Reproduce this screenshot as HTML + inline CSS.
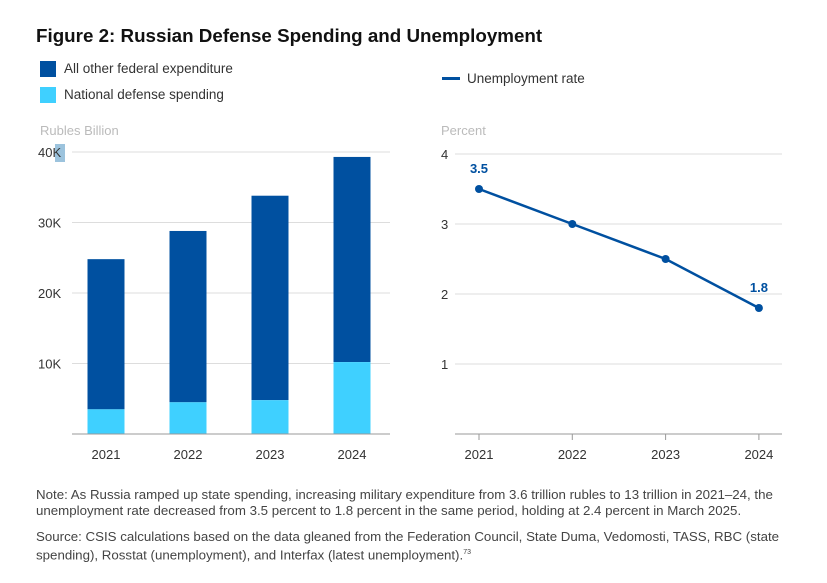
<!DOCTYPE html>
<html><head><meta charset="utf-8">
<style>
body{margin:0;width:827px;height:583px;background:#fff;font-family:"Liberation Sans",sans-serif;overflow:hidden;position:relative}
.t{position:absolute;white-space:nowrap}
</style></head>
<body>
<div class="t" style="left:36px;top:25px;font-size:18.8px;font-weight:bold;color:#111">Figure 2: Russian Defense Spending and Unemployment</div>
<div style="position:absolute;left:40px;top:61px;width:16px;height:16px;background:#0050a0"></div>
<div class="t" style="left:64px;top:61px;font-size:13.5px;color:#333">All other federal expenditure</div>
<div style="position:absolute;left:40px;top:87px;width:16px;height:16px;background:#3fd0ff"></div>
<div class="t" style="left:64px;top:87px;font-size:13.5px;color:#333">National defense spending</div>
<div style="position:absolute;left:442px;top:77px;width:18px;height:3px;background:#0050a0"></div>
<div class="t" style="left:467px;top:71px;font-size:13.5px;color:#333">Unemployment rate</div>
<svg id="c" width="827" height="583" style="position:absolute;left:0;top:0"></svg>
<div class="t" style="left:36px;top:487px;font-size:13.3px;color:#444;line-height:16px">Note: As Russia ramped up state spending, increasing military expenditure from 3.6 trillion rubles to 13 trillion in 2021–24, the<br>unemployment rate decreased from 3.5 percent to 1.8 percent in the same period, holding at 2.4 percent in March 2025.</div>
<div class="t" style="left:36px;top:529px;font-size:13.3px;color:#444;line-height:16px">Source: CSIS calculations based on the data gleaned from the Federation Council, State Duma, Vedomosti, TASS, RBC (state<br>spending), Rosstat (unemployment), and Interfax (latest unemployment).<sup style="font-size:7px">73</sup></div>
<script>
const years=["2021","2022","2023","2024"];
const totalSpend=[24.8,28.8,33.8,39.3];
const defenseSpend=[3.5,4.5,4.8,10.2];
const leftTicks=[10,20,30,40];
const leftTickLabels=["10K","20K","30K","40K"];
const unemployment=[3.5,3.0,2.5,1.8];
const rightTicks=[1,2,3,4];
const labeled=[0,3];
const NS="http://www.w3.org/2000/svg",svg=document.getElementById('c');
function mk(t,a,txt){const e=document.createElementNS(NS,t);for(const k in a)e.setAttribute(k,a[k]);if(txt!==undefined)e.textContent=txt;svg.appendChild(e);return e;}
const base=434;
const yL=v=>base-v*7.05;
const yR=v=>base-v*70;
const xL=i=>106+i*82;
const xR=i=>479+i*93.3;
let e;
e=mk('text',{x:40,y:135,'font-size':13,fill:'#bbb'},'Rubles Billion');

e=mk('text',{x:441,y:135,'font-size':13,fill:'#bbb'},'Percent');

e=mk('rect',{x:55,y:144,width:10,height:18,fill:'#9cc3dd'});

leftTicks.forEach((t,i)=>{
 e=mk('line',{x1:72,x2:390,y1:yL(t),y2:yL(t),stroke:'#ddd','stroke-width':1});
 
 e=mk('text',{x:38,y:yL(t)+5,'font-size':13,fill:'#333'},leftTickLabels[i]);
 
});
rightTicks.forEach(t=>{
 e=mk('line',{x1:455,x2:782,y1:yR(t),y2:yR(t),stroke:'#ddd','stroke-width':1});
 
 e=mk('text',{x:441,y:yR(t)+5,'font-size':13,fill:'#333'},String(t));
 
});
years.forEach((y,i)=>{
 e=mk('rect',{x:xL(i)-18.5,y:yL(totalSpend[i]),width:37,height:yL(defenseSpend[i])-yL(totalSpend[i]),fill:'#0050a0'});
 
 e=mk('rect',{x:xL(i)-18.5,y:yL(defenseSpend[i]),width:37,height:base-yL(defenseSpend[i]),fill:'#3fd0ff'});
 
 e=mk('text',{x:xL(i),y:459,'font-size':13,fill:'#333','text-anchor':'middle'},y);
 
 e=mk('text',{x:xR(i),y:459,'font-size':13,fill:'#333','text-anchor':'middle'},y);
 
 e=mk('line',{x1:xR(i),x2:xR(i),y1:base,y2:base+6,stroke:'#999'});
 
});
e=mk('line',{x1:72,x2:390,y1:base,y2:base,stroke:'#999'});

e=mk('line',{x1:455,x2:782,y1:base,y2:base,stroke:'#999'});

e=mk('polyline',{points:unemployment.map((v,i)=>xR(i)+','+yR(v)).join(' '),fill:'none',stroke:'#0050a0','stroke-width':2.5});

unemployment.forEach((v,i)=>{
 e=mk('circle',{cx:xR(i),cy:yR(v),r:4,fill:'#0050a0'});
 
 if(labeled.includes(i)){
  e=mk('text',{x:xR(i),y:yR(v)-16,'font-size':13,'font-weight':'bold',fill:'#0050a0','text-anchor':'middle'},v.toFixed(1));
  
 }
});
</script>
</body></html>
